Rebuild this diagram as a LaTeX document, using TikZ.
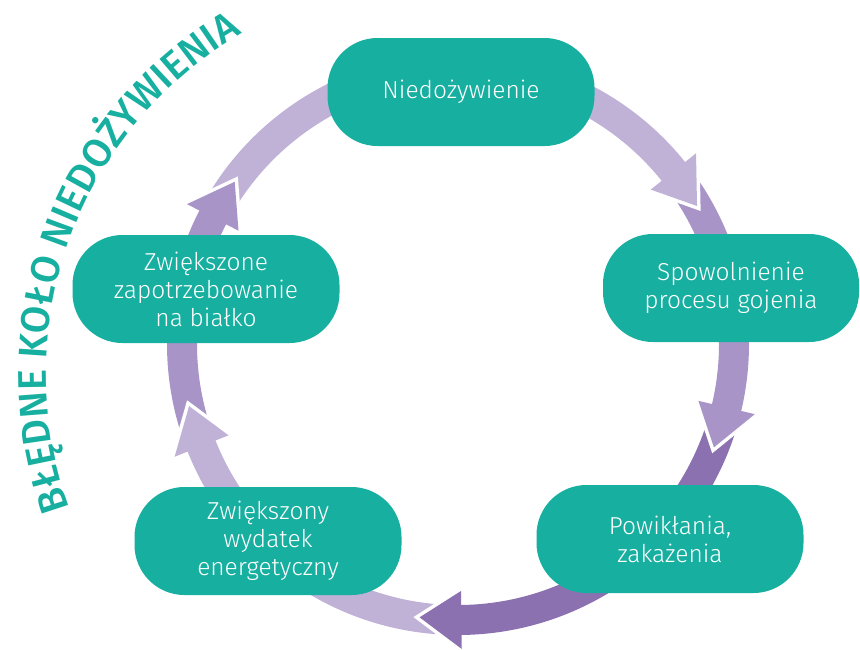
\documentclass[tikz,border=0pt]{standalone}
\usepackage{fontspec}
\IfFontExistsTF{Fira Sans Light}{\setmainfont{Fira Sans Light}}{\setmainfont{Fira Sans}}
\IfFontExistsTF{Fira Sans Medium}{\newfontfamily\titlefont{Fira Sans Medium}}{\newfontfamily\titlefont{Fira Sans}}
\usetikzlibrary{backgrounds,decorations.text}

\definecolor{nodeteal}{HTML}{17AFA0}
\definecolor{lilac}{HTML}{C0B2D7}
\definecolor{midlilac}{HTML}{A894C7}
\definecolor{darklilac}{HTML}{8C71B0}

\begin{document}
\begin{tikzpicture}[x=1pt, y=1pt,
    stage/.style={fill=nodeteal, text=white, rounded corners=50pt,
      minimum width=267pt, minimum height=108pt, inner sep=0pt,
      align=center, font=\fontsize{24.5}{28}\selectfont},
    band/.style={line width=30pt}]
  \useasboundingbox (0,0) rectangle (860,-649);
  \coordinate (c) at (458,-344);
  \coordinate (t) at (440,-374);

  % the five stages
  \node[stage] (niedo) at (461,-92) {Niedożywienie};
  \node[stage, minimum width=256pt] (gojenie) at (731,-288) {Spowolnienie\\procesu gojenia};
  \node[stage] (powiklania) at (670,-539) {Powikłania,\\zakażenia};
  \node[stage] (wydatek) at (268,-541) {Zwiększony\\wydatek\\energetyczny};
  \node[stage] (bialko) at (206,-289) {Zwiększone\\zapotrzebowanie\\na białko};

  % circle of arrows behind the stages
  \begin{scope}[on background layer]
    \foreach \from/\tip/\col in {149/30/lilac, 35/-22/midlilac,
        -17/-98/darklilac, -93/-167/lilac, -162/-216/midlilac}
      \draw[band, \col] ([shift={(c)}]\from:276)
        arc[start angle=\from, end angle=\tip+7, radius=276];
    \foreach \tip/\col in {30/lilac, -22/midlilac, -98/darklilac,
        -167/lilac, -216/midlilac} {
      \draw[white, line width=7pt, line join=miter]
        ([shift={(c)}]{\tip+8.7}:247) -- ([shift={(c)}]\tip:276)
        -- ([shift={(c)}]{\tip+8.7}:305);
      \fill[\col] ([shift={(c)}]{\tip+8.7}:247) -- ([shift={(c)}]\tip:276)
        -- ([shift={(c)}]{\tip+8.7}:305) -- cycle;
    }
  \end{scope}

  % title along the arc
  \path[decorate, decoration={text along path, text align=center,
      text={|\titlefont\fontsize{40}{40}\selectfont\color{nodeteal}|BŁĘDNE KOŁO NIEDOŻYWIENIA}}]
    ([shift={(t)}]207:394) arc[start angle=207, end angle=113, radius=394];
\end{tikzpicture}
\end{document}
